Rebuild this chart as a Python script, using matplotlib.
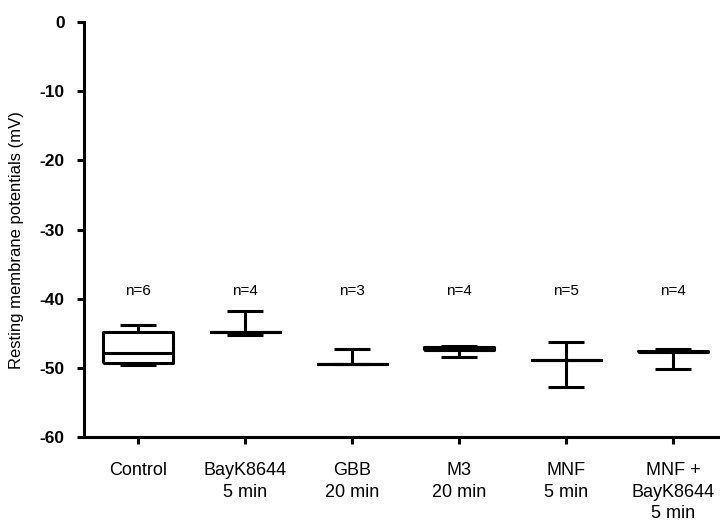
import matplotlib.pyplot as plt

plt.rcParams['font.family'] = ['Liberation Sans', 'DejaVu Sans']

# === Data ===
groups = ['Control', 'BayK8644\n5 min', 'GBB\n20 min', 'M3\n20 min',
          'MNF\n5 min', 'MNF +\nBayK8644\n5 min']
n_counts = [6, 4, 3, 4, 5, 4]
whis_lo = [-49.6, -45.3, -49.4, -48.4, -52.7, -50.1]
q1 = [-49.3, -44.8, -49.4, -47.4, -48.9, -47.7]
median = [-47.8, -44.8, -49.4, -47.4, -48.9, -47.7]
q3 = [-44.8, -44.8, -49.4, -47.0, -48.9, -47.6]
whis_hi = [-43.8, -41.8, -47.3, -46.8, -46.3, -47.3]

stats = []
for lo, a, m, b, hi in zip(whis_lo, q1, median, q3, whis_hi):
    stats.append({'whislo': lo, 'q1': a, 'med': m, 'q3': b, 'whishi': hi, 'fliers': []})

positions = list(range(1, len(groups) + 1))

fig = plt.figure(figsize=(7.2, 5.22), dpi=100)
ax = fig.add_axes([84 / 720, 1 - 437 / 522, 1 - 84 / 720, (437 - 22) / 522])

lw = 2.2
line = dict(color='black', linewidth=lw, solid_capstyle='butt')
ax.bxp(stats, positions=positions, widths=0.66, capwidths=0.34,
       showfliers=False, boxprops=line, whiskerprops=line,
       capprops=line, medianprops=line)

for x, n in zip(positions, n_counts):
    ax.text(x, -38.9, f'n={n}', ha='center', va='center', fontsize=11)

ax.set_xlim(0.495, 6.44)
ax.set_ylim(-60, 0)
ax.set_yticks(range(-60, 1, 10))
ax.set_yticklabels([str(v) for v in range(-60, 1, 10)], fontweight='bold', fontsize=12.5)
ax.set_xticks(positions)
ax.set_xticklabels(groups, fontsize=13, linespacing=1.35)
ax.set_ylabel('Resting membrane potentials (mV)', fontsize=12)
ax.yaxis.set_label_coords(-0.095, 0.475)

for side in ['top', 'right']:
    ax.spines[side].set_visible(False)
for side in ['left', 'bottom']:
    ax.spines[side].set_linewidth(lw)
ax.tick_params(axis='y', length=5, width=lw, pad=9)
ax.tick_params(axis='x', length=5, width=lw, pad=13)

fig.savefig('out.png', dpi=100)
